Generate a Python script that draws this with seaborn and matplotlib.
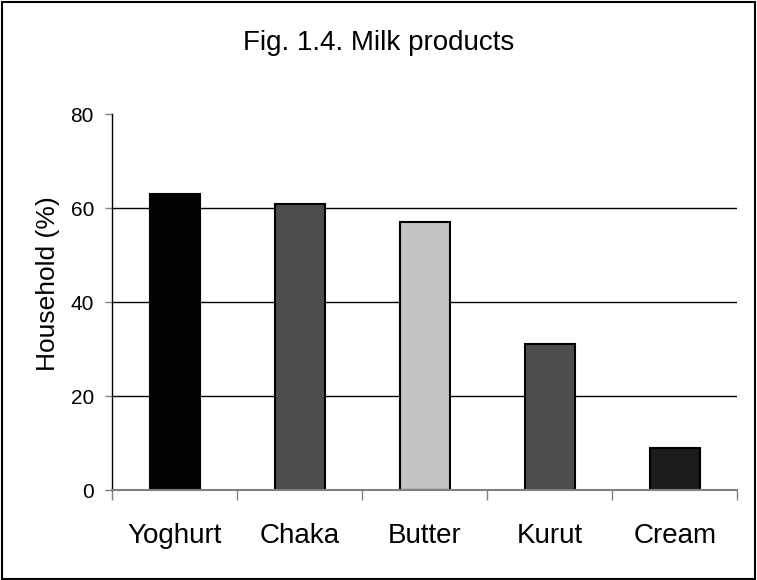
import matplotlib
matplotlib.use("Agg")
import matplotlib.pyplot as plt
import seaborn as sns
import pandas as pd
import numpy as np

# data
products = ["Yoghurt", "Chaka", "Butter", "Kurut", "Cream"]
household_pct = [63, 61, 57, 31, 9]
bar_colors = ["#000000", "#4d4d4d", "#c4c4c4", "#4d4d4d", "#1c1c1c"]
y_ticks = [0, 20, 40, 60, 80]

df = pd.DataFrame({"product": products, "pct": household_pct})

sns.set_style("white")
plt.rcParams["font.family"] = ["Liberation Sans", "DejaVu Sans"]
plt.rcParams["text.color"] = "black"
plt.rcParams["xtick.color"] = "black"
plt.rcParams["ytick.color"] = "black"
plt.rcParams["axes.labelcolor"] = "black"

fig = plt.figure(figsize=(7.57, 5.80), dpi=100)
ax = fig.add_axes([0.148, 0.155, 0.826, 0.648])

sns.barplot(data=df, x="product", y="pct", hue="product", palette=bar_colors,
            width=0.4, edgecolor="black", linewidth=1.5, legend=False, ax=ax)

ax.set_ylim(0, 80)
ax.set_xlim(-0.5, 4.5)
ax.set_yticks(y_ticks)
ax.set_yticklabels([str(v) for v in y_ticks], fontsize=15)

# gridlines at 20/40/60 only
for v in y_ticks[1:-1]:
    ax.axhline(v, color="black", linewidth=1, zorder=0)

# category labels, ticks drawn between categories
ax.set_xticks(range(len(products)))
ax.set_xticklabels(products, fontsize=20)
ax.set_xticks(np.arange(-0.5, len(products), 1), minor=True)
ax.tick_params(axis="x", which="major", bottom=True, length=0, pad=24)
ax.tick_params(axis="x", which="minor", bottom=True, length=7, color="#808080",
               width=1, direction="out")
ax.tick_params(axis="y", left=True, length=5, color="#808080", width=1,
               direction="out", pad=8)

ax.set_xlabel("")
ax.set_ylabel("Household (%)", fontsize=19)
ax.yaxis.set_label_coords(-0.083, 0.55)

for s in ["top", "right"]:
    ax.spines[s].set_visible(False)
ax.spines["left"].set_color("black")
ax.spines["left"].set_linewidth(1)
ax.spines["bottom"].set_color("#808080")
ax.spines["bottom"].set_linewidth(1.5)

fig.text(0.5, 0.925, "Fig. 1.4. Milk products", ha="center", va="center", fontsize=20)

# outer frame
fig.patches.append(plt.Rectangle((0.002, 0.002), 0.995, 0.995, transform=fig.transFigure,
                                 fill=False, edgecolor="black", linewidth=1.5))

fig.savefig("out.png", dpi=100)
